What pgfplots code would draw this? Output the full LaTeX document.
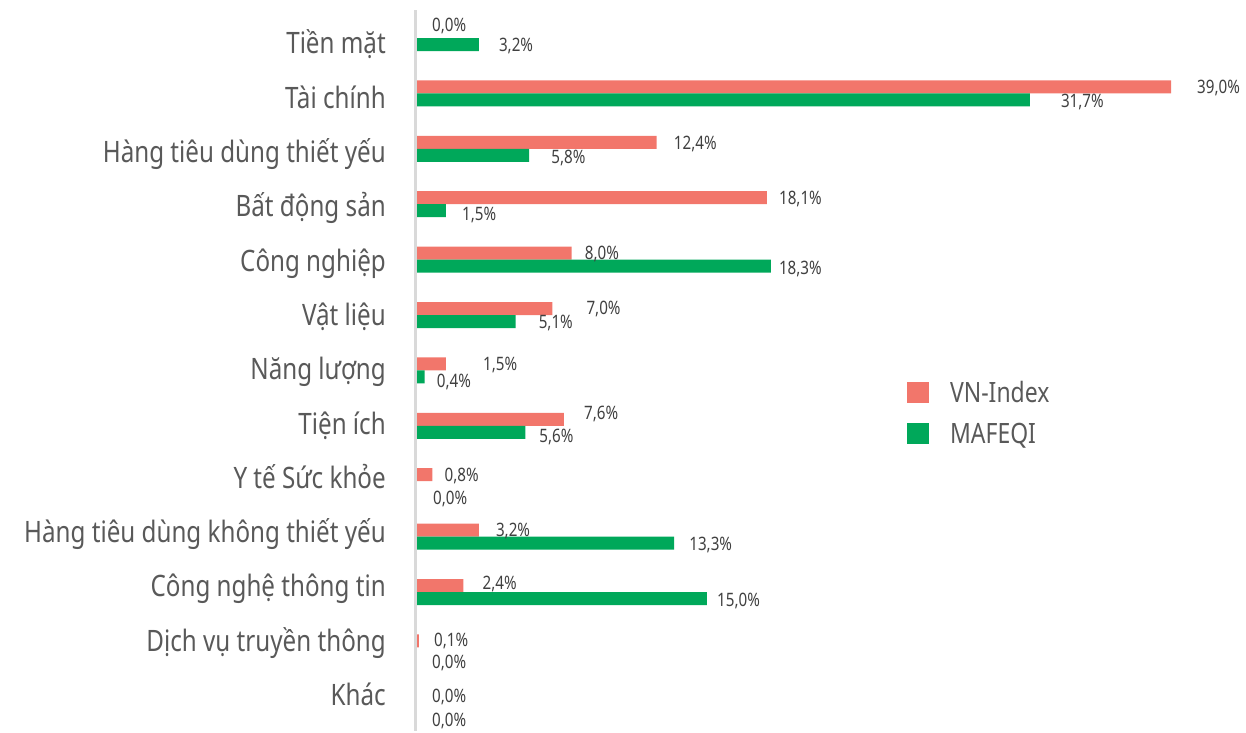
\documentclass[border=0pt]{standalone}
\usepackage{pgfplots}
\pgfplotsset{compat=1.18}
\usepackage{pgfplotstable}
\usepackage{fontspec}
\setmainfont{Noto Sans}[FakeStretch=0.82]
\definecolor{vn}{HTML}{F2766B}
\definecolor{ma}{HTML}{00A85A}
\definecolor{txt}{HTML}{595959}
\definecolor{val}{HTML}{404040}
\definecolor{axg}{HTML}{D9D9D9}

\pgfplotstableread{
idx vn ma vdx vdy mdx mdy
0 0.0 3.2 15 6.5 20 0
1 39.0 31.7 26 0 31 -1
2 12.4 5.8 17 -0.7 22 -1.7
3 18.1 1.5 12 -0.3 16 -3.3
4 8.0 18.3 13 0 8 -2
5 7.0 5.1 34 0.5 23 -0.5
6 1.5 0.4 37 0 12 -4
7 7.6 5.6 20 6 14 -3.7
8 0.8 0.0 12 0 16 -10
9 3.2 13.3 17 0 15 -1
10 2.4 15.0 19 2.5 10 -1.5
11 0.1 0.0 15 1 15 -8
12 0.0 0.0 15 0 15 -11
}\data

\begin{document}
\begin{tikzpicture}
\path[use as bounding box] (-417pt,-1.5pt) rectangle (829pt,730.5pt);
\begin{axis}[
  at={(0pt,0pt)}, anchor=south west,
  scale only axis, width=754pt, height=720.2pt,
  xbar, bar width=13pt,
  xmin=0, xmax=39, ymin=-0.5, ymax=12.5, y dir=reverse,
  xtick=\empty,
  ytick={0.099,1.079,2.060,3.040,4.020,5.000,5.980,6.960,7.940,8.920,9.900,10.881,11.861},
  yticklabels={Tiền mặt,Tài chính,Hàng tiêu dùng thiết yếu,Bất động sản,Công nghiệp,Vật liệu,Năng lượng,Tiện ích,Y tế Sức khỏe,Hàng tiêu dùng không thiết yếu,Công nghệ thông tin,Dịch vụ truyền thông,Khác},
  yticklabel style={font=\fontsize{29.5}{31}\selectfont, text=txt, anchor=east, inner sep=0pt, text height=21pt, text depth=0pt, xshift=-31pt},
  major tick length=0pt,
  axis line style={draw=none},
  clip=false,
  point meta=x,
  legend image code/.code={\fill[#1] (0pt,-10.5pt) rectangle (22pt,10.5pt);},
  legend style={at={(axis cs:25.35,6.769)}, anchor=west, draw=none, fill=none, inner sep=0pt, outer sep=0pt,
    row sep=20pt, cells={anchor=west},
    font=\fontsize{28}{30}\selectfont, text=txt,
    nodes={inner sep=0pt, text height=20pt, text depth=0pt},
    /tikz/every odd column/.append style={column sep=21pt}},
  nodes near coords={\pgfmathprintnumber[fixed,fixed zerofill,precision=1,use comma,assume math mode=true]{\pgfplotspointmeta}\%},
]
\addplot[fill=vn, draw=none, bar shift=6.5pt,
  visualization depends on={\thisrow{vdx} \as \ldx},
  visualization depends on={\thisrow{vdy} \as \ldy},
  nodes near coords style={anchor=west, inner sep=0pt, text=val, font=\fontsize{18.5}{20}\selectfont, text height=13pt, text depth=0pt, xshift=\ldx pt, yshift=\ldy pt}]
  table[x=vn, y=idx] {\data};
\addplot[fill=ma, draw=none, bar shift=-6.5pt,
  visualization depends on={\thisrow{mdx} \as \ldx},
  visualization depends on={\thisrow{mdy} \as \ldy},
  nodes near coords style={anchor=west, inner sep=0pt, text=val, font=\fontsize{18.5}{20}\selectfont, text height=13pt, text depth=0pt, xshift=\ldx pt, yshift=\ldy pt}]
  table[x=ma, y=idx] {\data};
\draw[axg, line width=3pt, xshift=-1.5pt] (axis cs:0,-0.5) -- (axis cs:0,12.5);
\legend{VN-Index, MAFEQI}
\end{axis}
\end{tikzpicture}
\end{document}
